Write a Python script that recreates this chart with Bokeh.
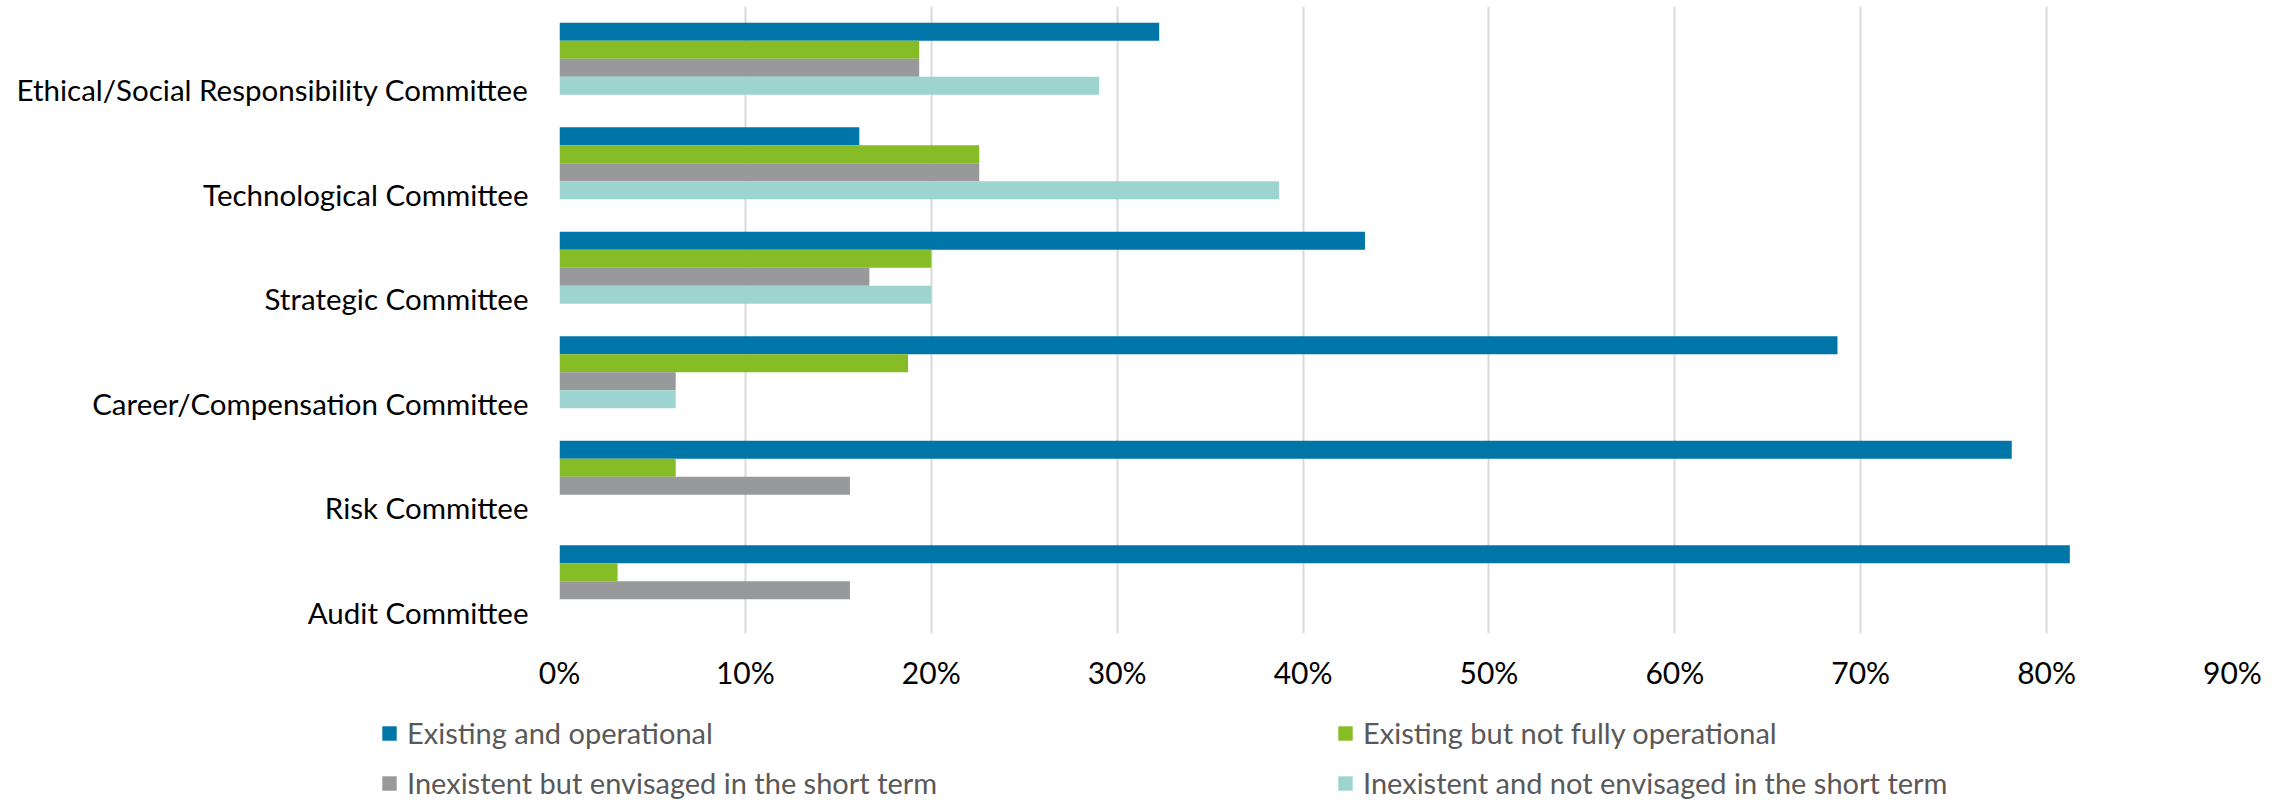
from bokeh.plotting import figure
from bokeh.layouts import column
from bokeh.models import Range1d, FixedTicker, NumeralTickFormatter, Legend, LegendItem, ColumnDataSource
from bokeh.transform import dodge
from bokeh.embed import file_html
from bokeh.resources import INLINE

# ---- data (top to bottom as in the chart) ----
categories = [
    "Ethical/Social Responsibility Committee",
    "Technological Committee",
    "Strategic Committee",
    "Career/Compensation Committee",
    "Risk Committee",
    "Audit Committee",
]
series_names = [
    "Existing and operational",
    "Existing but not fully operational",
    "Inexistent but envisaged in the short term",
    "Inexistent and not envisaged in the short term",
]
existing_operational = [0.3226, 0.1613, 0.4333, 0.6875, 0.78125, 0.8125]
existing_not_fully = [0.1935, 0.2258, 0.2000, 0.1875, 0.0625, 0.03125]
inexistent_envisaged = [0.1935, 0.2258, 0.1667, 0.0625, 0.15625, 0.15625]
inexistent_not_envisaged = [0.2903, 0.3871, 0.2000, 0.0625, 0.0, 0.0]
x_ticks = [0.0, 0.1, 0.2, 0.3, 0.4, 0.5, 0.6, 0.7, 0.8, 0.9]
colors = ["#0076A8", "#86BC25", "#97999B", "#9DD4CF"]

series_values = [existing_operational, existing_not_fully, inexistent_envisaged, inexistent_not_envisaged]

# ---- layout helpers ----
n = len(categories)
ypos = [n - 1 - i for i in range(n)]
PX_PER_CAT = 104.5
BAR_PX = 18
LABEL_SHIFT_PX = 31
h = BAR_PX / PX_PER_CAT
d = LABEL_SHIFT_PX / PX_PER_CAT
FONT = "Lato"

src = ColumnDataSource(dict(y=ypos, s0=series_values[0], s1=series_values[1],
                            s2=series_values[2], s3=series_values[3]))

p = figure(width=2287, height=700, output_backend="svg", toolbar_location=None,
           x_range=Range1d(0, 0.9), y_range=Range1d(d - 0.5, n - 0.5 + d),
           min_border_left=559, min_border_right=55, min_border_top=6, min_border_bottom=67)
p.frame_align = False

for j in range(4):
    off = d + (1.5 - j) * h
    p.hbar(y=dodge("y", off, range=p.y_range), left=0, right=f"s{j}", height=h,
           source=src, fill_color=colors[j], line_color=None)

# axes
p.xaxis.ticker = FixedTicker(ticks=x_ticks)
p.xaxis.formatter = NumeralTickFormatter(format="0%")
p.xaxis.axis_line_color = None
p.xaxis.major_tick_line_color = None
p.xaxis.minor_tick_line_color = None
p.xaxis.major_tick_out = 0
p.xaxis.major_label_text_font = FONT
p.xaxis.major_label_text_font_size = "30px"
p.xaxis.major_label_text_color = "#000000"
p.xaxis.major_label_standoff = 20

p.yaxis.ticker = FixedTicker(ticks=ypos)
p.yaxis.major_label_overrides = {y: c for y, c in zip(ypos, categories)}
p.yaxis.axis_line_color = None
p.yaxis.major_tick_line_color = None
p.yaxis.minor_tick_line_color = None
p.yaxis.major_tick_out = 0
p.yaxis.major_label_standoff = 31
p.yaxis.major_label_text_font = FONT
p.yaxis.major_label_text_font_size = "29.5px"
p.yaxis.major_label_text_color = "#000000"

p.ygrid.visible = False
p.xgrid.grid_line_color = "#D9D9D9"
p.xgrid.grid_line_width = 2
p.outline_line_color = None

# ---- legend strip under the chart (full-width frame) ----
lf = figure(width=2287, height=100, output_backend="svg", toolbar_location=None,
            x_range=Range1d(0, 1), y_range=Range1d(0, 1),
            x_axis_location=None, y_axis_location=None,
            min_border_left=0, min_border_right=0, min_border_top=0, min_border_bottom=0)
lf.frame_align = False
lf.grid.visible = False
lf.outline_line_color = None

# zero-width key glyphs: they only give the legend its colour swatches
key_renderers = [lf.hbar(y=[0], left=[0], right=[0], height=0, fill_color=c, line_color=None)
                 for c in colors]

def make_legend(idx, loc):
    return Legend(items=[LegendItem(label=series_names[i], renderers=[key_renderers[i]]) for i in idx],
                  location=loc, orientation="vertical",
                  glyph_width=18, glyph_height=18, label_standoff=9,
                  label_text_font=FONT, label_text_font_size="29px", label_text_color="#595959",
                  spacing=15, padding=0, margin=0, border_line_color=None,
                  background_fill_alpha=0)

lf.add_layout(make_legend([0, 2], (380, 0)))
lf.add_layout(make_legend([1, 3], (1336, 0)))

layout = column(p, lf, spacing=0)
open("out.html", "w").write(file_html(layout, INLINE))
